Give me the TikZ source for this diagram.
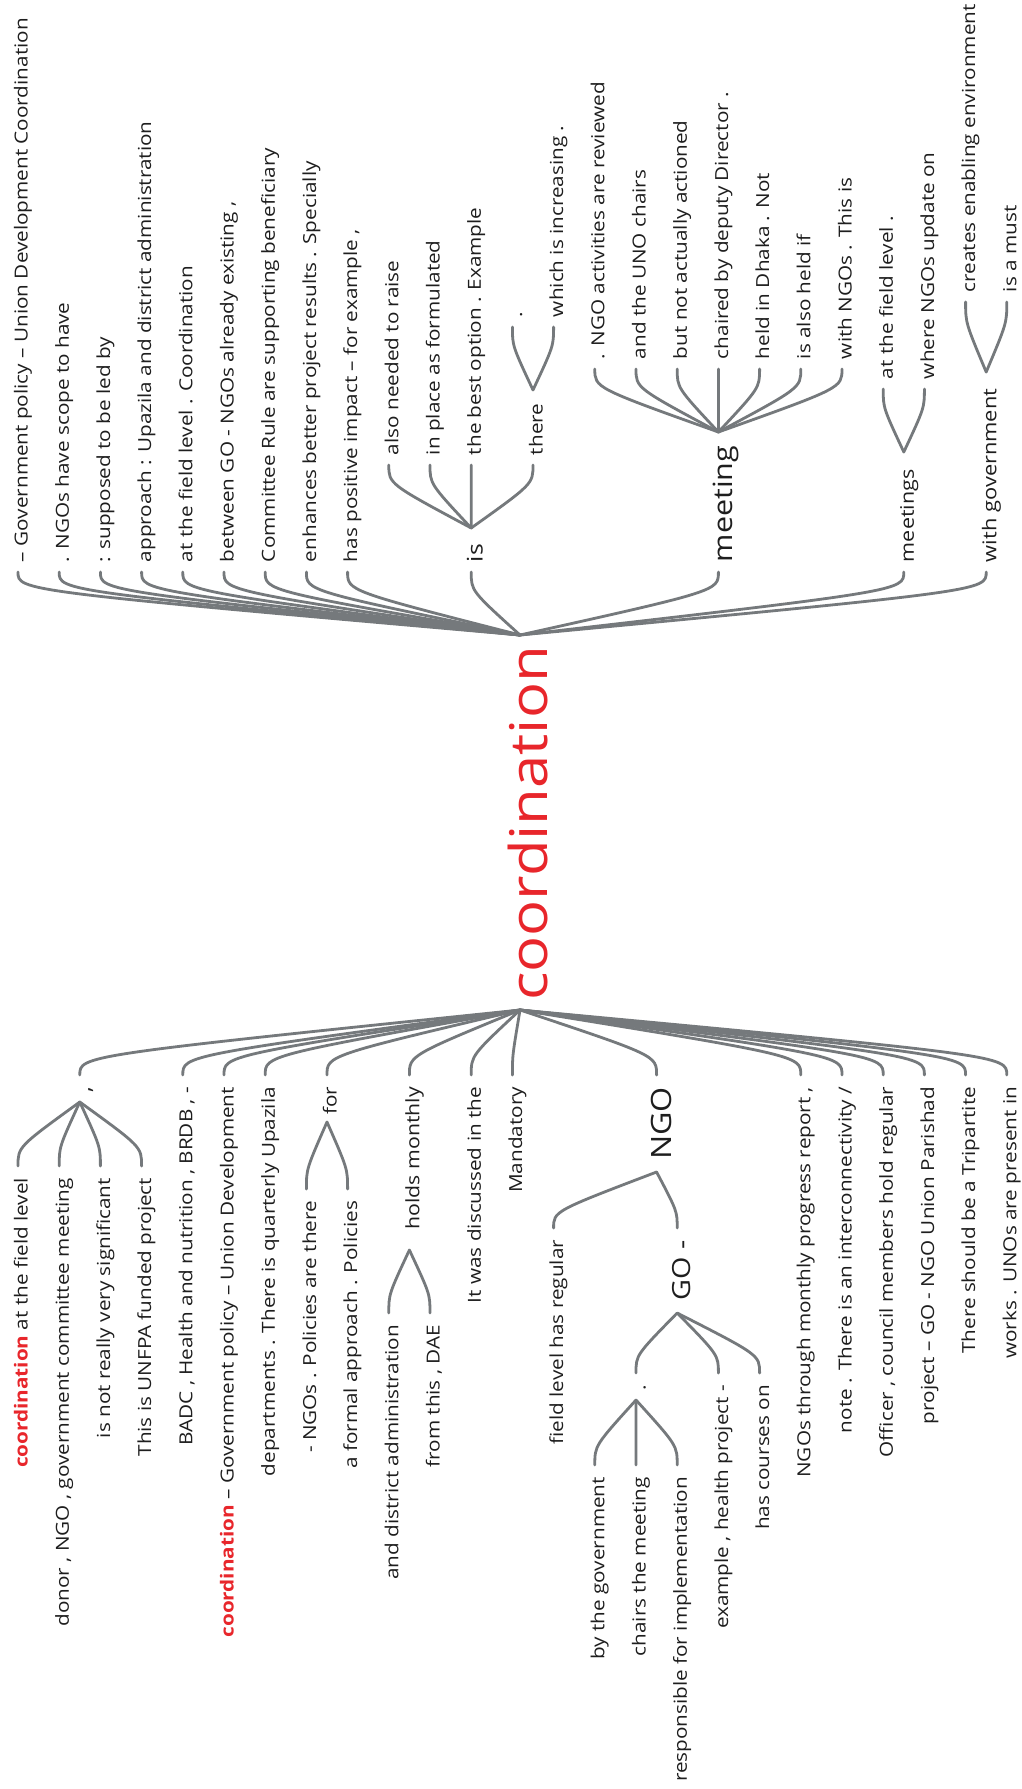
\documentclass[tikz,border=0pt]{standalone}
\usepackage{fontspec}
\newfontfamily\wtfont[FakeStretch=1.15]{Open Sans}
\usetikzlibrary{calc}
\definecolor{wtred}{HTML}{E8262B}
\definecolor{wtgrey}{HTML}{75797C}
\definecolor{wtink}{HTML}{1E1E1E}
\tikzset{
  lbl/.style={rotate=90, inner sep=0pt, outer sep=0pt, text=wtink},
  wtf/.style={font=\wtfont\fontsize{#1}{#1}\selectfont},
  wtlink/.style={draw=wtgrey, line width=2.8pt, line cap=round},
}
% curved link: leaves the junction almost sideways, ends vertical at the label
\newcommand\wlink[2]{\draw[wtlink] (#1) .. controls ($(#2)!0.3!(#2 |- #1)$) .. (#2);}
% label growing upward: name, parent junction, slot, link end y, size, text
\newcommand\wtup[6]{%
  \coordinate (#1-in) at ({18+41.2*#3},#4);
  \node[lbl, wtf=#5, anchor=base west] (#1) at ($(#1-in)+(0.535*#5,-10)$) {#6};
  \wlink{#2}{#1-in}}
% label growing downward (text ends at the link)
\newcommand\wtdown[6]{%
  \coordinate (#1-in) at ({18+41.2*#3},#4);
  \node[lbl, wtf=#5, anchor=base east] (#1) at ($(#1-in)+(0.535*#5,12)$) {#6};
  \wlink{#2}{#1-in}}
\newcommand\hl[1]{\textbf{\textcolor{wtred}{#1}}}
\begin{document}
\begin{tikzpicture}[x=1pt, y=-1pt]
\fill[white] (0,0) rectangle (1021,1789);
\useasboundingbox (0,0) rectangle (1021,1789);

% root word and its two junctions
\node[lbl, wtf=52, text=wtred, anchor=base] (root) at (547.8,823.5) {coordination};
\coordinate (rt) at (520,635);
\coordinate (rb) at (520,1010);

% ---- words that follow ----
\wtup{t0}{rt}{0}{572}{18}{– Government policy – Union Development Coordination}
\wtup{t1}{rt}{1}{572}{18}{. NGOs have scope to have}
\wtup{t2}{rt}{2}{572}{18}{: supposed to be led by}
\wtup{t3}{rt}{3}{572}{18}{approach : Upazila and district administration}
\wtup{t4}{rt}{4}{572}{18}{at the field level . Coordination}
\wtup{t5}{rt}{5}{572}{18}{between GO - NGOs already existing ,}
\wtup{t6}{rt}{6}{572}{18}{Committee Rule are supporting beneficiary}
\wtup{t7}{rt}{7}{572}{18}{enhances better project results . Specially}
\wtup{t8}{rt}{8}{572}{18}{has positive impact – for example ,}
\wtup{tis}{rt}{11}{572}{21.5}{is}
\wtup{tmeet}{rt}{17}{572}{26.5}{meeting}
\wtup{tmeets}{rt}{21.5}{572}{18.7}{meetings}
\wtup{twith}{rt}{23.5}{572}{19}{with government}

\coordinate (tis-out) at ({18+41.2*11},528);
\wtup{tis1}{tis-out}{9}{465}{18}{also needed to raise}
\wtup{tis2}{tis-out}{10}{465}{18}{in place as formulated}
\wtup{tis3}{tis-out}{11}{465}{18}{the best option . Example}
\wtup{tthere}{tis-out}{12.5}{465}{18}{there}

\coordinate (tthere-out) at ({18+41.2*12.5},390);
\wtup{tth1}{tthere-out}{12}{327}{18}{.}
\wtup{tth2}{tthere-out}{13}{327}{18}{which is increasing .}

\coordinate (tmeet-out) at ({18+41.2*17},432);
\wtup{tm1}{tmeet-out}{14}{369}{18}{. NGO activities are reviewed}
\wtup{tm2}{tmeet-out}{15}{369}{18}{and the UNO chairs}
\wtup{tm3}{tmeet-out}{16}{369}{18}{but not actually actioned}
\wtup{tm4}{tmeet-out}{17}{369}{18}{chaired by deputy Director .}
\wtup{tm5}{tmeet-out}{18}{369}{18}{held in Dhaka . Not}
\wtup{tm6}{tmeet-out}{19}{369}{18}{is also held if}
\wtup{tm7}{tmeet-out}{20}{369}{18}{with NGOs . This is}

\coordinate (tmeets-out) at ({18+41.2*21.5},452);
\wtup{tms1}{tmeets-out}{21}{389}{18}{at the field level .}
\wtup{tms2}{tmeets-out}{22}{389}{18}{where NGOs update on}

\coordinate (twith-out) at ({18+41.2*23.5},372);
\wtup{tw1}{twith-out}{23}{302}{18}{creates enabling environment}
\wtup{tw2}{twith-out}{24}{302}{18}{is a must}

% ---- words that precede ----
\wtdown{b0}{rb}{1.5}{1075}{20}{,}
\wtdown{b1}{rb}{4}{1075}{18}{BADC , Health and nutrition , BRDB , -}
\wtdown{b2}{rb}{5}{1075}{18}{\hl{coordination} – Government policy – Union Development}
\wtdown{b3}{rb}{6}{1075}{18}{departments . There is quarterly Upazila}
\wtdown{bfor}{rb}{7.5}{1075}{18}{for}
\wtdown{bholds}{rb}{9.5}{1075}{18.5}{holds monthly}
\wtdown{b4}{rb}{11}{1075}{18}{It was discussed in the}
\wtdown{b5}{rb}{12}{1075}{18}{Mandatory}
\wtdown{bngo}{rb}{15.5}{1075}{28}{NGO}
\wtdown{b6}{rb}{19}{1075}{18}{NGOs through monthly progress report ,}
\wtdown{b7}{rb}{20}{1075}{18}{note . There is an interconnectivity /}
\wtdown{b8}{rb}{21}{1075}{18}{Officer , council members hold regular}
\wtdown{b9}{rb}{22}{1075}{18}{project – GO - NGO Union Parishad}
\wtdown{b10}{rb}{23}{1075}{18}{There should be a Tripartite}
\wtdown{b11}{rb}{24}{1075}{18}{works . UNOs are present in}

\coordinate (b0-out) at ({18+41.2*1.5},1102);
\wtdown{bc1}{b0-out}{0}{1166}{18}{\hl{coordination} at the field level}
\wtdown{bc2}{b0-out}{1}{1166}{18}{donor , NGO , government committee meeting}
\wtdown{bc3}{b0-out}{2}{1166}{18}{is not really very significant}
\wtdown{bc4}{b0-out}{3}{1166}{18}{This is UNFPA funded project}

\coordinate (bfor-out) at ({18+41.2*7.5},1122);
\wtdown{bf1}{bfor-out}{7}{1189}{18}{- NGOs . Policies are there}
\wtdown{bf2}{bfor-out}{8}{1189}{18}{a formal approach . Policies}

\coordinate (bholds-out) at ({18+41.2*9.5},1250);
\wtdown{bh1}{bholds-out}{9}{1313}{18}{and district administration}
\wtdown{bh2}{bholds-out}{10}{1313}{18}{from this , DAE}

\coordinate (bngo-out) at ({18+41.2*15.5},1172);
\wtdown{bn1}{bngo-out}{13}{1228}{18}{field level has regular}
\wtdown{bgo}{bngo-out}{16}{1228}{25}{GO -}

\coordinate (bgo-out) at ({18+41.2*16},1313);
\wtdown{bdot}{bgo-out}{15}{1373}{18}{.}
\wtdown{bg2}{bgo-out}{17}{1373}{18}{example , health project -}
\wtdown{bg3}{bgo-out}{18}{1373}{18}{has courses on}

\coordinate (bdot-out) at ({18+41.2*15},1400);
\wtdown{bd1}{bdot-out}{14}{1465}{18}{by the government}
\wtdown{bd2}{bdot-out}{15}{1465}{18}{chairs the meeting}
\wtdown{bd3}{bdot-out}{16}{1465}{18}{responsible for implementation}
\end{tikzpicture}
\end{document}
